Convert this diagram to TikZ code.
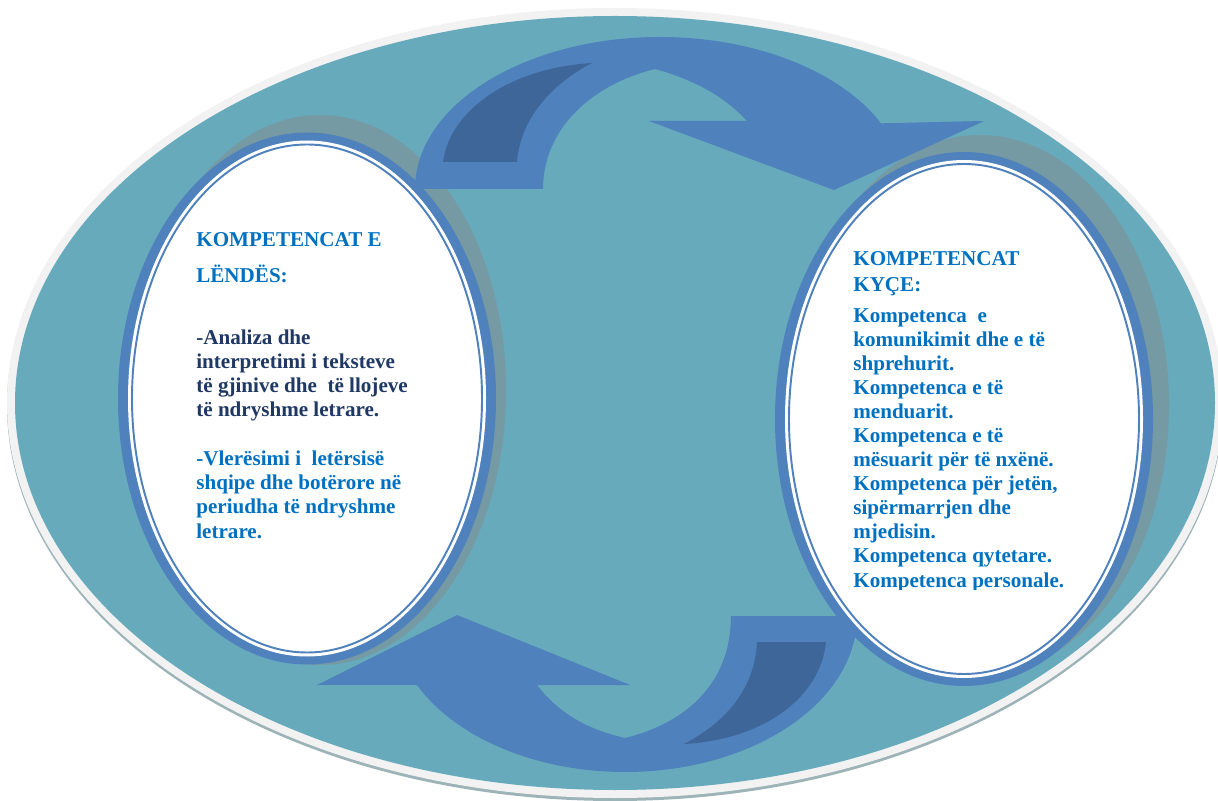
\documentclass[tikz,border=0pt]{standalone}
\usepackage{fontspec}
\setmainfont{Liberation Serif}
\definecolor{rimgray}{HTML}{F2F2F2}
\definecolor{rimshade}{HTML}{9CB3B8}
\definecolor{poolfill}{HTML}{67AABC}
\definecolor{loopblue}{HTML}{4F81BD}
\definecolor{loopdark}{HTML}{3E6699}
\definecolor{ovalshade}{HTML}{759AA3}
\definecolor{headblue}{HTML}{0070C0}
\definecolor{navytext}{HTML}{1F3864}

\begin{document}
\begin{tikzpicture}[x=0.2mm, y=-0.2mm,
  loop/.style={fill=loopblue},
  fold/.style={fill=loopdark},
  ovalshadow/.style={fill=ovalshade},
  ovalring/.style={fill=loopblue},
  ovalin/.style={fill=white},
  ovalline/.style={draw=loopblue, line width=1.1pt},
  txt/.style={anchor=base west, inner sep=0, align=left,
              font=\fontsize{12}{13.8}\selectfont\bfseries},
]
\useasboundingbox (0,0) rectangle (1218,801);
% outer pool with its grey rim
\fill[rimshade] (615,406) ellipse[x radius=608, y radius=395];
\fill[rimgray] (615,403) ellipse[x radius=608, y radius=395];
\fill[poolfill] (615,403) ellipse[x radius=600, y radius=387];
% shadows behind the two ovals
\fill[ovalshadow] (320,390) ellipse[x radius=186, y radius=275];
\fill[ovalshadow] (980,405) ellipse[x radius=189, y radius=270];
% upper loop arrow (left -> right)
\fill[loop] (415,189) arc[start angle=180, end angle=334.4, x radius=245, y radius=152]
  -- (984,121) -- (834,190) -- (649,121) -- (747,121)
  .. controls (725,97) and (695,80) .. (655,69)
  .. controls (590,85) and (543,130) .. (543,189) -- cycle;
\fill[fold] (443,162) .. controls (450,110) and (510,68) .. (592,63)
  .. controls (550,85) and (520,120) .. (517,162) -- cycle;
% lower loop arrow (right -> left)
\fill[loop] (857,616) arc[start angle=0, end angle=153.8, x radius=232, y radius=156]
  -- (317,685) -- (457,615) -- (630,685) -- (537,685)
  .. controls (560,715) and (590,730) .. (625,738)
  .. controls (690,722) and (731,680) .. (731,616) -- cycle;
\fill[fold] (826,642) .. controls (820,700) and (760,740) .. (684,744)
  .. controls (730,720) and (755,685) .. (757,642) -- cycle;
% left oval
\fill[ovalring] (307,398.5) ellipse[x radius=189, y radius=266];
\fill[ovalin] (307,398.5) ellipse[x radius=179, y radius=258];
\draw[ovalline] (307,398.5) ellipse[x radius=175, y radius=254];
% right oval
\fill[ovalring] (964,419) ellipse[x radius=189, y radius=267];
\fill[ovalin] (964,419) ellipse[x radius=179, y radius=259];
\draw[ovalline] (964,419) ellipse[x radius=175, y radius=255];
% subject competences (base = last line)
\node[txt, text=headblue] (lendtitle) at (196,283) {KOMPETENCAT E\\[6.7pt]LËNDËS:};
\node[txt, text=navytext] (analiza) at (196,417)
  {-Analiza dhe\\interpretimi i teksteve\\të gjinive dhe~~të llojeve\\të ndryshme letrare.};
\node[txt, text=headblue] (vleresimi) at (196,538)
  {-Vlerësimi i~~letërsisë\\shqipe dhe botërore në\\periudha të ndryshme\\letrare.};
% key competences (last line cut by the frame)
\node[txt, text=headblue] (kycetitle) at (853,292) {KOMPETENCAT\\[1pt]KYÇE:};
\begin{scope}
  \clip (840,240) rectangle (1160,589.5);
  \node[txt, text=headblue, font=\fontsize{12}{13.7}\selectfont\bfseries] (kyce) at (853,587)
    {Kompetenca~~e\\komunikimit dhe e të\\shprehurit.\\Kompetenca e të\\menduarit.\\
     Kompetenca e të\\mësuarit për të nxënë.\\Kompetenca për jetën,\\sipërmarrjen dhe\\
     mjedisin.\\Kompetenca qytetare.\\Kompetenca personale.};
\end{scope}
\end{tikzpicture}
\end{document}
